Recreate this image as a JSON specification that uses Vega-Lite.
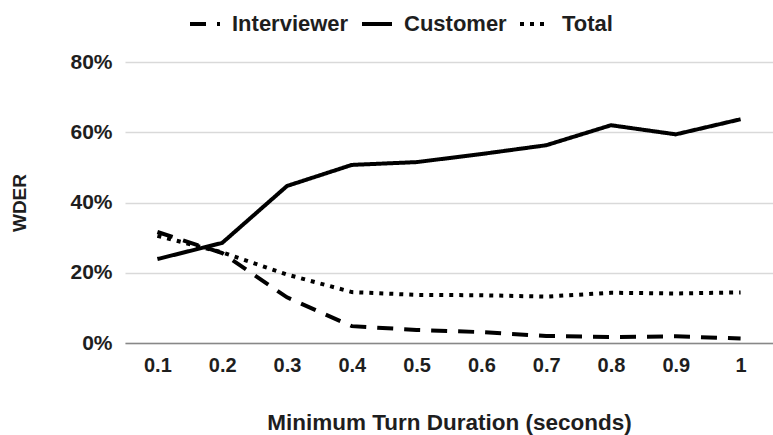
{
  "$schema": "https://vega.github.io/schema/vega-lite/v6.json",
  "width": 648,
  "height": 281,
  "autosize": {"type": "none"},
  "padding": {"left": 125, "top": 62, "right": 0, "bottom": 92},
  "background": "white",
  "config": {
    "view": {"stroke": null},
    "font": "Liberation Sans",
    "axis": {"labelFont": "Liberation Sans", "titleFont": "Liberation Sans", "labelFontWeight": "bold", "titleFontWeight": "bold", "labelColor": "#1e1e1e", "titleColor": "#1e1e1e"},
    "legend": {"labelFont": "Liberation Sans", "labelFontWeight": "bold", "labelFontSize": 22, "labelColor": "#1e1e1e"}
  },
  "data": {
    "values": [
      {"d": "0.1", "s": "Interviewer", "v": 0.316},
      {"d": "0.2", "s": "Interviewer", "v": 0.256},
      {"d": "0.3", "s": "Interviewer", "v": 0.13},
      {"d": "0.4", "s": "Interviewer", "v": 0.048},
      {"d": "0.5", "s": "Interviewer", "v": 0.037},
      {"d": "0.6", "s": "Interviewer", "v": 0.031},
      {"d": "0.7", "s": "Interviewer", "v": 0.02},
      {"d": "0.8", "s": "Interviewer", "v": 0.017},
      {"d": "0.9", "s": "Interviewer", "v": 0.019},
      {"d": "1", "s": "Interviewer", "v": 0.013},
      {"d": "0.1", "s": "Customer", "v": 0.239},
      {"d": "0.2", "s": "Customer", "v": 0.285},
      {"d": "0.3", "s": "Customer", "v": 0.447},
      {"d": "0.4", "s": "Customer", "v": 0.507},
      {"d": "0.5", "s": "Customer", "v": 0.515},
      {"d": "0.6", "s": "Customer", "v": 0.538},
      {"d": "0.7", "s": "Customer", "v": 0.563},
      {"d": "0.8", "s": "Customer", "v": 0.62},
      {"d": "0.9", "s": "Customer", "v": 0.594},
      {"d": "1", "s": "Customer", "v": 0.637},
      {"d": "0.1", "s": "Total", "v": 0.305},
      {"d": "0.2", "s": "Total", "v": 0.258},
      {"d": "0.3", "s": "Total", "v": 0.195},
      {"d": "0.4", "s": "Total", "v": 0.145},
      {"d": "0.5", "s": "Total", "v": 0.137},
      {"d": "0.6", "s": "Total", "v": 0.136},
      {"d": "0.7", "s": "Total", "v": 0.132},
      {"d": "0.8", "s": "Total", "v": 0.143},
      {"d": "0.9", "s": "Total", "v": 0.141},
      {"d": "1", "s": "Total", "v": 0.144}
    ]
  },
  "mark": {"type": "line", "color": "black", "strokeWidth": 4},
  "encoding": {
    "x": {
      "field": "d", "type": "ordinal", "sort": null,
      "scale": {"type": "point", "padding": 0.5},
      "axis": {"title": "Minimum Turn Duration (seconds)", "labelAngle": 0, "ticks": false, "domainColor": "#888888", "domainWidth": 1.5, "labelPadding": 12, "labelFontSize": 20, "titleFontSize": 22.5, "titlePadding": 36, "grid": false}
    },
    "y": {
      "field": "v", "type": "quantitative",
      "scale": {"domain": [0, 0.8]},
      "axis": {"title": "WDER", "format": ".0%", "values": [0, 0.2, 0.4, 0.6, 0.8], "ticks": false, "domain": false, "gridColor": "#d9d9d9", "gridWidth": 1.5, "labelPadding": 13, "labelFontSize": 21, "titleFontSize": 19, "titlePadding": 40}
    },
    "strokeDash": {
      "field": "s", "type": "nominal",
      "scale": {"domain": ["Interviewer", "Customer", "Total"], "range": [[16, 11], [1, 0], [4, 6]]},
      "legend": {"title": null, "orient": "none", "direction": "horizontal", "legendX": 63, "legendY": -55, "symbolType": "stroke", "symbolStrokeWidth": 4, "symbolStrokeColor": "black", "symbolSize": 900, "columnPadding": 5, "labelOffset": 10}
    }
  }
}
